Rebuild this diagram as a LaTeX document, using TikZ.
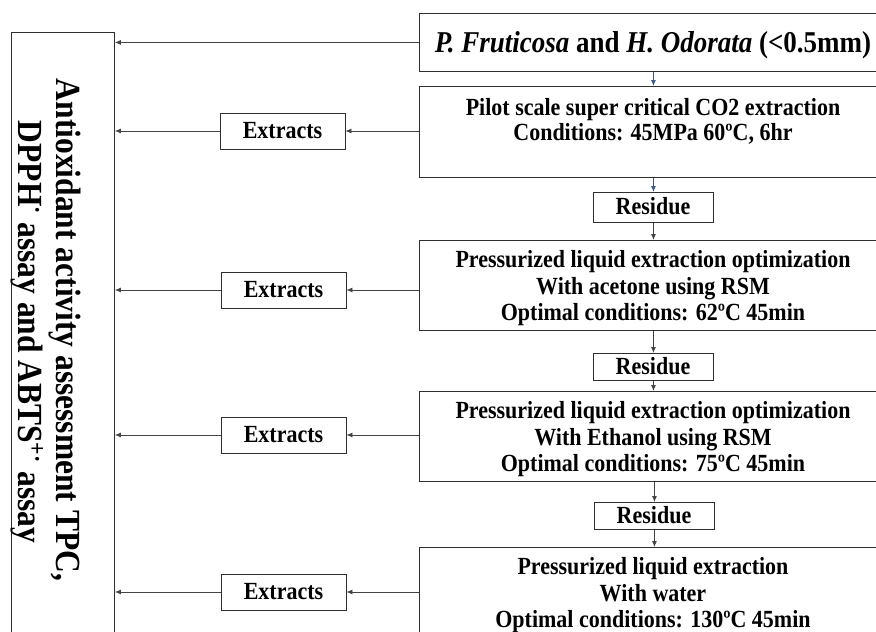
\documentclass[tikz,border=0pt]{standalone}
\usepackage{fontspec}
\setmainfont{Liberation Serif}
\usetikzlibrary{arrows.meta,calc}
\definecolor{linegray}{HTML}{444444}
\definecolor{boxgray}{HTML}{2E2E2E}
\definecolor{arrowblue}{HTML}{3B5A8C}
\newcommand{\tallt}[1]{\scalebox{1}[1.12]{#1}}
\tikzset{
  frame/.style={draw=boxgray, line width=0.9pt, rectangle, inner sep=0pt},
  txt/.style={font=\fontsize{22}{26.5}\selectfont\bfseries, inner sep=0pt, anchor=base},
  toptxt/.style={font=\fontsize{27}{32}\selectfont\bfseries, inner sep=0pt, anchor=base},
  sidetxt/.style={font=\fontsize{31.5}{37}\selectfont\bfseries, inner sep=0pt, anchor=base, rotate=-90},
  conn/.style={draw=linegray, line width=0.8pt, -{Latex[length=6pt,width=5pt]}},
  bconn/.style={conn, draw=arrowblue},
}
\begin{document}
\begin{tikzpicture}[x=1pt,y=-1pt]
\useasboundingbox (0,0) rectangle (876,632);
\fill[white] (0,0) rectangle (876,632);
\clip (0,0) rectangle (876,632);

% left assessment box
\node[frame, minimum width=103.5pt, minimum height=640pt, anchor=north west] (assess) at (10.5,32) {};
\node[sidetxt] (side1) at (56,330) {\tallt{Antioxidant activity assessment TPC,}};
\node[sidetxt] (side2) at (19,332) {\tallt{DPPH\textsuperscript{·} assay and ABTS\textsuperscript{+·} assay}};

% right column boxes
\node[frame, minimum width=468pt, minimum height=58pt, anchor=north west] (top) at (419,13) {};
\node[toptxt] (toptext) at (653,52) {\tallt{\textit{P. Fruticosa} and \textit{H. Odorata} (<0.5mm)}};

\node[frame, minimum width=468pt, minimum height=91pt, anchor=north west] (box2) at (419,86) {};
\node[txt] (b2a) at (653,115) {\tallt{Pilot scale super critical CO2 extraction}};
\node[txt] (b2b) at (653,140) {\tallt{Conditions: 45MPa 60ºC, 6hr}};

\node[frame, minimum width=120pt, minimum height=30pt, anchor=north west] (res1) at (593,192) {};
\node[txt] (res1t) at (653,214.5) {\tallt{Residue}};

\node[frame, minimum width=468pt, minimum height=90pt, anchor=north west] (box3) at (419,240) {};
\node[txt] (b3a) at (653,267) {\tallt{Pressurized liquid extraction optimization}};
\node[txt] (b3b) at (653,294) {\tallt{With acetone using RSM}};
\node[txt] (b3c) at (653,320) {\tallt{Optimal conditions: 62ºC 45min}};

\node[frame, minimum width=120pt, minimum height=27pt, anchor=north west] (res2) at (593,353) {};
\node[txt] (res2t) at (653,374) {\tallt{Residue}};

\node[frame, minimum width=468pt, minimum height=90pt, anchor=north west] (box4) at (419,391) {};
\node[txt] (b4a) at (653,418) {\tallt{Pressurized liquid extraction optimization}};
\node[txt] (b4b) at (653,445) {\tallt{With Ethanol using RSM}};
\node[txt] (b4c) at (653,471) {\tallt{Optimal conditions: 75ºC 45min}};

\node[frame, minimum width=120pt, minimum height=27pt, anchor=north west] (res3) at (594,502) {};
\node[txt] (res3t) at (654,523) {\tallt{Residue}};

\node[frame, minimum width=468pt, minimum height=120pt, anchor=north west] (box5) at (419,547) {};
\node[txt] (b5a) at (653,574) {\tallt{Pressurized liquid extraction}};
\node[txt] (b5b) at (653,601) {\tallt{With water}};
\node[txt] (b5c) at (653,627) {\tallt{Optimal conditions: 130ºC 45min}};

% extracts boxes
\node[frame, minimum width=125pt, minimum height=36pt] (ext1) at (282.5,131) {};
\node[txt] (ext1t) at (282.5,138.5) {\tallt{Extracts}};
\node[frame, minimum width=125pt, minimum height=36pt] (ext2) at (283.5,290) {};
\node[txt] (ext2t) at (283.5,297.5) {\tallt{Extracts}};
\node[frame, minimum width=125pt, minimum height=36pt] (ext3) at (283.5,435) {};
\node[txt] (ext3t) at (283.5,442.5) {\tallt{Extracts}};
\node[frame, minimum width=125pt, minimum height=36pt] (ext4) at (283.5,592) {};
\node[txt] (ext4t) at (283.5,599.5) {\tallt{Extracts}};

% connectors
\draw[conn] (top.west) -- (top.west -| assess.east);
\draw[bconn] (res1.north |- top.south) -- (res1.north |- box2.north);
\draw[bconn] (res1.north |- box2.south) -- (res1.north);
\draw[conn] (res1.south) -- (res1.south |- box3.north);
\draw[conn] (res2.north |- box3.south) -- (res2.north);
\draw[conn] (res2.south) -- (res2.south |- box4.north);
\draw[conn] (res3.north |- box4.south) -- (res3.north);
\draw[conn] (res3.south) -- (res3.south |- box5.north);

\draw[conn] (ext1.east -| box2.west) -- (ext1.east);
\draw[conn] (ext1.west) -- (ext1.west -| assess.east);
\draw[conn] (ext2.east -| box3.west) -- (ext2.east);
\draw[conn] (ext2.west) -- (ext2.west -| assess.east);
\draw[conn] (ext3.east -| box4.west) -- (ext3.east);
\draw[conn] (ext3.west) -- (ext3.west -| assess.east);
\draw[conn] (ext4.east -| box5.west) -- (ext4.east);
\draw[conn] (ext4.west) -- (ext4.west -| assess.east);
\end{tikzpicture}
\end{document}
